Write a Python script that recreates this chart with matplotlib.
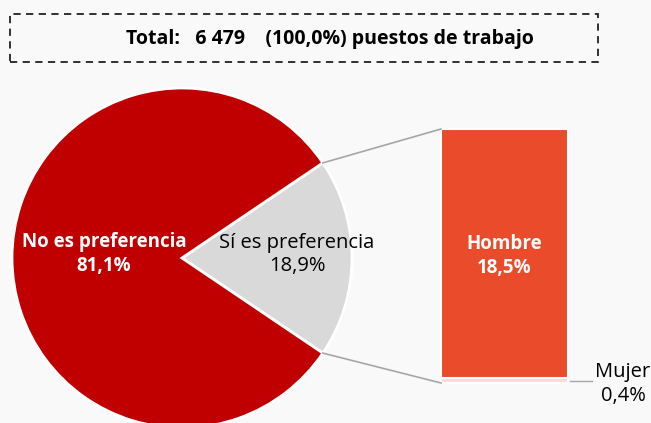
import matplotlib
matplotlib.use("Agg")
import matplotlib.pyplot as plt
from matplotlib.patches import Rectangle
import numpy as np

# data
pie_labels = ["Sí es preferencia", "No es preferencia"]
pie_values = [18.9, 81.1]
bar_labels = ["Hombre", "Mujer"]
bar_values = [18.5, 0.4]
total_text = "Total:   6 479    (100,0%) puestos de trabajo"

RED = "#C00000"
GRAY = "#D9D9D9"
ORANGE = "#E94B2B"
PINK = "#FFDAD5"
BG = "#F9F9F9"

plt.rcParams["font.family"] = ["Open Sans", "DejaVu Sans"]


def pct(v):
    return f"{v:.1f}%".replace(".", ",")


W, H = 651, 423
fig = plt.figure(figsize=(W / 100, H / 100), dpi=100, facecolor=BG)
ax = fig.add_axes([0, 0, 1, 1])

# pie, y measured up from bottom (pixel units)
cx, cy, r = 182, H - 258, 170
half = 360 * pie_values[0] / 100 / 2
ax.pie(pie_values, colors=[GRAY, RED], startangle=-half, center=(cx, cy),
       radius=r, wedgeprops=dict(edgecolor="white", linewidth=2))
ax.set_xlim(0, W)
ax.set_ylim(0, H)
ax.set_aspect("equal")
ax.axis("off")

ax.text(104, H - 254, pie_labels[1] + "\n" + pct(pie_values[1]),
        ha="center", va="center", color="white", fontsize=13.5, fontweight="bold",
        linespacing=1.3)
ax.text(297, H - 254, pie_labels[0] + "\n" + pct(pie_values[0]),
        ha="center", va="center", color="black", fontsize=14.5, linespacing=1.2)

# stacked bar of the small slice
bx, bw = 441, 127
btop, bbot = H - 129, H - 383
scale = (btop - bbot) / sum(bar_values)
bottom = bbot
for val, col in zip(bar_values[::-1], [PINK, ORANGE]):
    ax.bar(bx + bw / 2, val * scale, width=bw, bottom=bottom, color=col,
           edgecolor="white", linewidth=1.5)
    bottom += val * scale

ax.text(bx + bw / 2, H - 256, bar_labels[0] + "\n" + pct(bar_values[0]),
        ha="center", va="center", color="white", fontsize=13.5, fontweight="bold",
        linespacing=1.3)

# leader for Mujer
ax.plot([bx + bw + 2, 592], [H - 381, H - 381], color="#A6A6A6", lw=1)
ax.text(623, H - 384, bar_labels[1] + "\n" + pct(bar_values[1]),
        ha="center", va="center", color="black", fontsize=14.5, linespacing=1.2)

# connector lines
ang = np.deg2rad(half)
ux, uy = cx + r * np.cos(ang), cy + r * np.sin(ang)
lx, ly = cx + r * np.cos(-ang), cy + r * np.sin(-ang)
ax.plot([ux, bx], [uy, btop], color="#A6A6A6", lw=1.2)
ax.plot([lx, bx], [ly, bbot], color="#A6A6A6", lw=1.2)

# dashed total box
ax.add_patch(Rectangle((10, H - 62), 588, 48, fill=False, edgecolor="#222222",
                       linestyle=(0, (4, 3)), linewidth=1.3))
ax.text(330, H - 39, total_text, ha="center", va="center", fontsize=14,
        fontweight="bold", color="black")

fig.savefig("out.png", dpi=100, facecolor=BG)
